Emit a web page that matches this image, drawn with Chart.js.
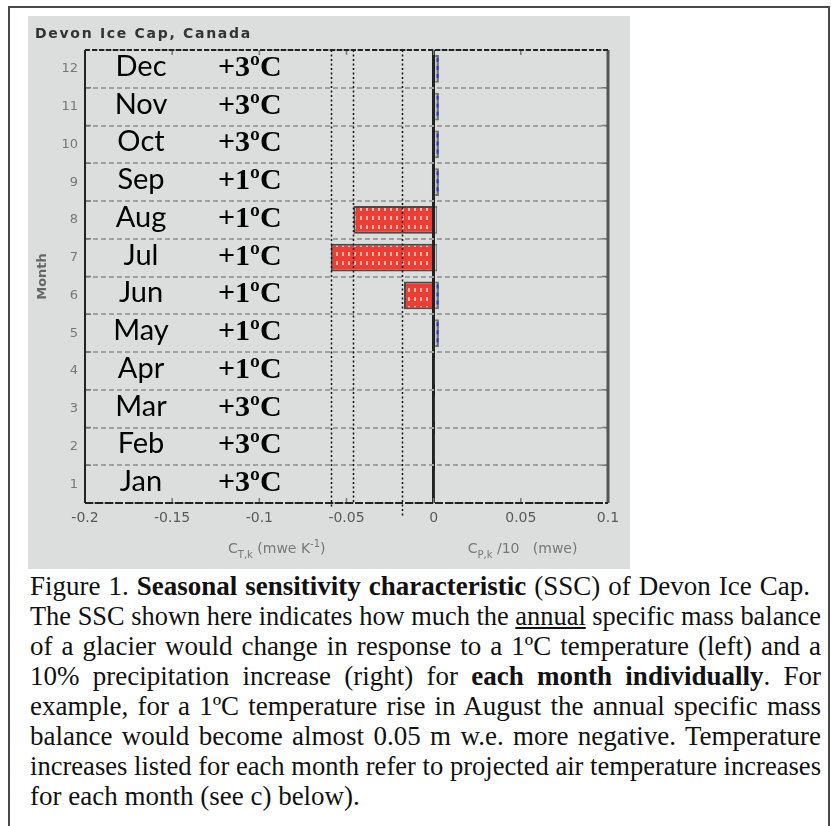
<!DOCTYPE html>
<html>
<head>
<meta charset="utf-8">
<script src="https://cdn.jsdelivr.net/npm/chart.js@4.4.1/dist/chart.umd.min.js"></script>
<style>
  html, body { margin: 0; padding: 0; background: #fff; width: 831px; height: 826px; overflow: hidden; }
  #frame { position: absolute; left: 8px; top: 6px; width: 818px; height: 900px; border: 2px solid #4a4a4a; }
  #panel { position: absolute; left: 28px; top: 16px; width: 602px; height: 553px; background: #dcdddd; }
  #caption { position: absolute; left: 30px; top: 571px; font-family: 'Liberation Serif', 'Times New Roman', serif;
             font-size: 27px; line-height: 30px; color: #111; }
  #caption .ln { white-space: nowrap; }
  #caption .ln > span { display: inline-block; transform-origin: left top; }
</style>
</head>
<body>
<div id="frame"></div>
<div id="panel"><canvas id="ssc" width="602" height="553"></canvas></div>
<div id="caption">
  <div class="ln" data-w="780"><span>Figure 1. <b>Seasonal sensitivity characteristic</b> (SSC) of Devon Ice Cap.</span></div>
  <div class="ln" data-w="791"><span>The SSC shown here indicates how much the <u>annual</u> specific mass balance</span></div>
  <div class="ln" data-w="791"><span>of a glacier would change in response to a 1ºC temperature (left) and a</span></div>
  <div class="ln" data-w="791"><span>10% precipitation increase (right) for <b>each month individually</b>. For</span></div>
  <div class="ln" data-w="791"><span>example, for a 1ºC temperature rise in August the annual specific mass</span></div>
  <div class="ln" data-w="791"><span>balance would become almost 0.05 m w.e. more negative. Temperature</span></div>
  <div class="ln" data-w="791"><span>increases listed for each month refer to projected air temperature increases</span></div>
  <div class="ln last" data-w="791"><span>for each month (see c) below).</span></div>
</div>
<script>
// data, Jan..Dec
const months = ['Jan', 'Feb', 'Mar', 'Apr', 'May', 'Jun', 'Jul', 'Aug', 'Sep', 'Oct', 'Nov', 'Dec'];
const monthNumbers = ['1', '2', '3', '4', '5', '6', '7', '8', '9', '10', '11', '12'];
const tempIncrease = [3, 3, 3, 1, 1, 1, 1, 1, 1, 3, 3, 3];
const tempSensitivity = [0, 0, 0, 0, 0, -0.017, -0.059, -0.046, -0.001, 0, 0, 0];
const precipSensitivity = [0.0005, 0.0005, 0.0005, 0.0005, 0.003, 0.003, 0.002, 0.002, 0.003, 0.003, 0.003, 0.003];
const markerValues = [-0.059, -0.046, -0.018];
const xTicks = [-0.2, -0.15, -0.1, -0.05, 0, 0.05, 0.1];

// caption lines: justify, or squeeze when too long
document.querySelectorAll('#caption .ln').forEach(function (el) {
  const target = +el.dataset.w;
  const span = el.firstElementChild;
  const w = span.getBoundingClientRect().width;
  if (w > target) {
    span.style.transform = 'scaleX(' + (target / w) + ')';
  } else if (!el.classList.contains('last')) {
    el.style.width = target + 'px';
    el.style.whiteSpace = 'normal';
    el.style.textAlign = 'justify';
    el.style.textAlignLast = 'justify';
    span.style.display = 'inline';
  }
});

const canvas = document.getElementById('ssc');
const tile = document.createElement('canvas');
tile.width = 6; tile.height = 9;
const tg = tile.getContext('2d');
tg.fillStyle = '#ee3d33';
tg.fillRect(0, 0, 6, 9);
tg.fillStyle = '#ffb8b0';
tg.fillRect(2, 2, 2, 4);
const checker = canvas.getContext('2d').createPattern(tile, 'repeat');

function drawParts(ctx, parts, cx, y) {
  const fontOf = p => p.k === 'n' ? '14px "DejaVu Sans"' : '10px "DejaVu Sans"';
  let total = 0;
  parts.forEach(p => { ctx.font = fontOf(p); total += ctx.measureText(p.t).width; });
  let x = cx - total / 2;
  parts.forEach(p => {
    ctx.font = fontOf(p);
    const dy = p.k === 'sub' ? 5 : p.k === 'sup' ? -6 : 0;
    ctx.fillText(p.t, x, y + dy);
    x += ctx.measureText(p.t).width;
  });
}

const decorations = {
  id: 'decorations',
  afterDatasetsDraw(chart) {
    const { ctx, chartArea: a, scales: { x, y } } = chart;
    ctx.save();
    // blue dashes inside the precipitation bars
    chart.getDatasetMeta(1).data.forEach(bar => {
      const w = Math.abs(bar.x - bar.base);
      if (w < 3) return;
      const h = bar.height;
      ctx.strokeStyle = '#2636c8';
      ctx.lineWidth = 2;
      ctx.setLineDash([4, 4]);
      ctx.beginPath();
      const cx = (bar.x + bar.base) / 2 + 0.5;
      ctx.moveTo(cx, bar.y - h / 2 + 3);
      ctx.lineTo(cx, bar.y + h / 2 - 3);
      ctx.stroke();
    });
    // dotted reference lines
    const tails = [5, 0, 13];
    ctx.strokeStyle = '#111';
    ctx.lineWidth = 1.5;
    ctx.setLineDash([2, 2.5]);
    markerValues.forEach((v, i) => {
      const px = Math.round(x.getPixelForValue(v)) + 0.5;
      ctx.beginPath();
      ctx.moveTo(px, a.top);
      ctx.lineTo(px, a.bottom + tails[i]);
      ctx.stroke();
    });
    // inner tick marks
    ctx.setLineDash([]);
    ctx.strokeStyle = '#777';
    ctx.lineWidth = 1.5;
    xTicks.forEach(v => {
      const px = x.getPixelForValue(v);
      ctx.beginPath();
      ctx.moveTo(px, a.top); ctx.lineTo(px, a.top + 5);
      ctx.moveTo(px, a.bottom); ctx.lineTo(px, a.bottom - 5);
      ctx.stroke();
    });
    for (let i = 0; i < monthNumbers.length - 1; i++) {
      const py = (y.getPixelForValue(i) + y.getPixelForValue(i + 1)) / 2;
      ctx.beginPath();
      ctx.moveTo(a.left, py); ctx.lineTo(a.left + 6, py);
      ctx.moveTo(a.right, py); ctx.lineTo(a.right - 6, py);
      ctx.stroke();
    }
    // plot frame
    ctx.strokeStyle = '#222';
    ctx.lineWidth = 2;
    ctx.beginPath(); ctx.moveTo(a.left, a.top); ctx.lineTo(a.left, a.bottom); ctx.stroke();
    ctx.strokeStyle = '#555';
    ctx.lineWidth = 3;
    ctx.beginPath(); ctx.moveTo(a.right, a.top); ctx.lineTo(a.right, a.bottom); ctx.stroke();
    ctx.strokeStyle = '#222';
    ctx.lineWidth = 2;
    ctx.setLineDash([5, 2]);
    ctx.beginPath(); ctx.moveTo(a.left, a.top); ctx.lineTo(a.right, a.top); ctx.stroke();
    ctx.setLineDash([8, 2]);
    ctx.beginPath(); ctx.moveTo(a.left, a.bottom); ctx.lineTo(a.right, a.bottom); ctx.stroke();
    ctx.restore();
  },
  afterDraw(chart) {
    const { ctx, chartArea: a, scales: { x, y } } = chart;
    ctx.save();
    ctx.fillStyle = '#000';
    ctx.textBaseline = 'alphabetic';
    months.forEach((m, i) => {
      const py = y.getPixelForValue(i) + 7;
      ctx.font = '29px Lato';
      ctx.textAlign = 'center';
      ctx.fillText(m, a.left + 56, py);
      ctx.font = 'bold 30px "Liberation Serif"';
      ctx.textAlign = 'left';
      ctx.fillText('+' + tempIncrease[i] + 'ºC', a.left + 133, py);
    });
    // panel title
    ctx.font = 'bold 14px "DejaVu Sans"';
    ctx.fillStyle = '#333';
    ctx.letterSpacing = '1.7px';
    ctx.fillText('Devon Ice Cap, Canada', 7, 22);
    ctx.letterSpacing = '0px';
    // axis titles
    ctx.fillStyle = '#777';
    const ty = a.bottom + 50;
    drawParts(ctx, [{ t: 'C', k: 'n' }, { t: 'T,k', k: 'sub' }, { t: ' (mwe K', k: 'n' }, { t: '-1', k: 'sup' }, { t: ')', k: 'n' }],
      x.getPixelForValue(-0.09), ty);
    drawParts(ctx, [{ t: 'C', k: 'n' }, { t: 'P,k', k: 'sub' }, { t: ' /10   (mwe)', k: 'n' }],
      x.getPixelForValue(0.051), ty);
    ctx.restore();
  }
};

new Chart(canvas, {
  type: 'bar',
  data: {
    labels: monthNumbers,
    datasets: [{
      label: 'Temperature',
      data: tempSensitivity,
      backgroundColor: checker,
      borderColor: '#4a4a4a',
      borderWidth: 2,
      barPercentage: 0.74,
      categoryPercentage: 1,
      grouped: false
    }, {
      label: 'Precipitation',
      data: precipSensitivity,
      backgroundColor: '#b6bac6',
      borderColor: '#6a6a6a',
      borderWidth: 2,
      barPercentage: 0.74,
      categoryPercentage: 1,
      grouped: false
    }]
  },
  options: {
    indexAxis: 'y',
    responsive: false,
    animation: false,
    layout: { padding: { left: 0, top: 34, right: 22, bottom: 0 } },
    plugins: { legend: { display: false }, title: { display: false }, tooltip: { enabled: false } },
    scales: {
      x: {
        type: 'linear',
        min: -0.2,
        max: 0.1,
        afterBuildTicks: s => { s.ticks = xTicks.map(v => ({ value: v })); },
        afterFit: s => { s.height = 66; },
        ticks: {
          callback: v => String(+v.toFixed(2)),
          font: { family: 'DejaVu Sans', size: 14 },
          color: '#595959',
          padding: 7,
          maxRotation: 0,
          autoSkip: false
        },
        grid: {
          drawTicks: false,
          color: c => (c.tick && c.tick.value === 0) ? '#222' : 'rgba(0,0,0,0)',
          lineWidth: c => (c.tick && c.tick.value === 0) ? 3 : 0
        },
        border: { display: false }
      },
      y: {
        type: 'category',
        reverse: true,
        offset: true,
        afterFit: s => { s.width = 57; },
        ticks: { font: { family: 'DejaVu Sans', size: 13 }, color: '#777', padding: 7 },
        grid: { offset: true, drawTicks: false, color: '#a0a0a0', lineWidth: 2 },
        border: { display: false, dash: [5, 3] },
        title: {
          display: true,
          text: 'Month',
          color: '#666',
          font: { family: 'DejaVu Sans', size: 13, weight: 'bold' },
          padding: { top: 7, bottom: 0 }
        }
      }
    }
  },
  plugins: [decorations]
});
</script>
</body>
</html>
